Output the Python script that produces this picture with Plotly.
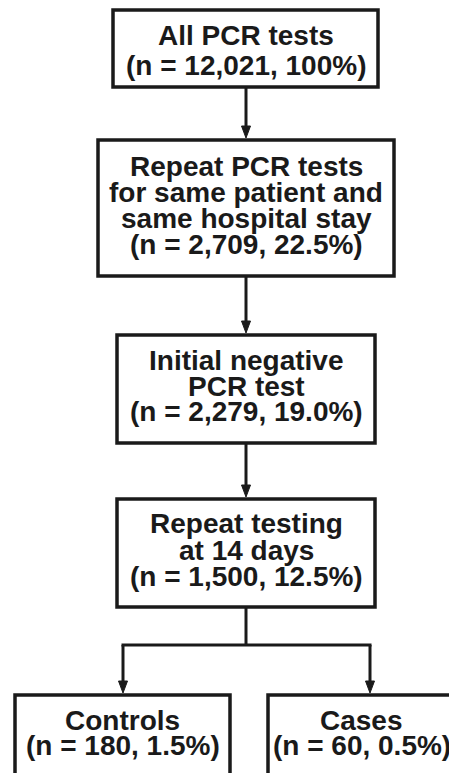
import plotly.graph_objects as go

# ---- data ----
stage_titles = [
    ["All PCR tests"],
    ["Repeat PCR tests", "for same patient and", "same hospital stay"],
    ["Initial negative", "PCR test"],
    ["Repeat testing", "at 14 days"],
    ["Controls"],
    ["Cases"],
]
n_values = [12021, 2709, 2279, 1500, 180, 60]
pct_values = [100, 22.5, 19.0, 12.5, 1.5, 0.5]

# ---- layout geometry (pixels of the window, y downward) ----
W, H = 457, 773
PAGE_MARGIN = 8  # default body margin of the html page
boxes = [
    (113, 10, 378, 87),
    (98, 140, 394, 276),
    (117, 335, 375, 443),
    (117, 499, 375, 607),
    (15, 695, 230, 800),
    (268, 695, 455, 800),
]
text_mid = [50, 205, 386, 550, 733, 733]
line_gap = [30, 26, 25.5, 26.5, 25, 25]
INK = "#1a1a1a"
FONT = dict(family="Liberation Sans, Arial, sans-serif", size=28, color=INK)


def fmt_pct(p):
    return f"{p:.0f}%" if float(p).is_integer() and p >= 100 else f"{p:.1f}%"


fig = go.Figure()
shapes = []
annotations = []

for i, (x0, y0, x1, y1) in enumerate(boxes):
    shapes.append(dict(type="rect", xref="x", yref="y", x0=x0, y0=y0, x1=x1, y1=y1,
                       line=dict(color=INK, width=3.5), fillcolor="white", layer="below"))
    lines = stage_titles[i] + [f"(n = {n_values[i]:,}, {fmt_pct(pct_values[i])})"]
    k = len(lines)
    cx = (x0 + x1) / 2
    for j, txt in enumerate(lines):
        y = text_mid[i] + (j - (k - 1) / 2) * line_gap[i]
        annotations.append(dict(x=cx, y=y, xref="x", yref="y", text=f"<b>{txt}</b>",
                                showarrow=False, xanchor="center", yanchor="middle",
                                font=FONT))


def seg(xa, ya, xb, yb):
    shapes.append(dict(type="line", xref="x", yref="y", x0=xa, y0=ya, x1=xb, y1=yb,
                       line=dict(color=INK, width=3)))


def arrow_down(x, ya, yb):
    head_len, half_w = 14, 4.5
    seg(x, ya, x, yb - head_len + 1)
    shapes.append(dict(type="path", xref="x", yref="y",
                       path=f"M {x - half_w},{yb - head_len} L {x + half_w},{yb - head_len} L {x},{yb - 2} Z",
                       fillcolor=INK, line=dict(color=INK, width=1)))


CX = 246
arrow_down(CX, boxes[0][3], boxes[1][1])
arrow_down(CX, boxes[1][3], boxes[2][1])
arrow_down(CX, boxes[2][3], boxes[3][1])
BRANCH_Y = 645
seg(CX, boxes[3][3], CX, BRANCH_Y)
seg(123 - 1.5, BRANCH_Y, 370 + 1.5, BRANCH_Y)
arrow_down(123, BRANCH_Y, boxes[4][1])
arrow_down(370, BRANCH_Y, boxes[5][1])

fig.update_layout(
    width=W - PAGE_MARGIN, height=H - PAGE_MARGIN,
    margin=dict(l=0, r=0, t=0, b=0),
    paper_bgcolor="white", plot_bgcolor="white",
    xaxis=dict(range=[PAGE_MARGIN, W], visible=False, fixedrange=True),
    yaxis=dict(range=[H, PAGE_MARGIN], visible=False, fixedrange=True),
    shapes=shapes, annotations=annotations, showlegend=False,
)
fig.write_html("out.html")
